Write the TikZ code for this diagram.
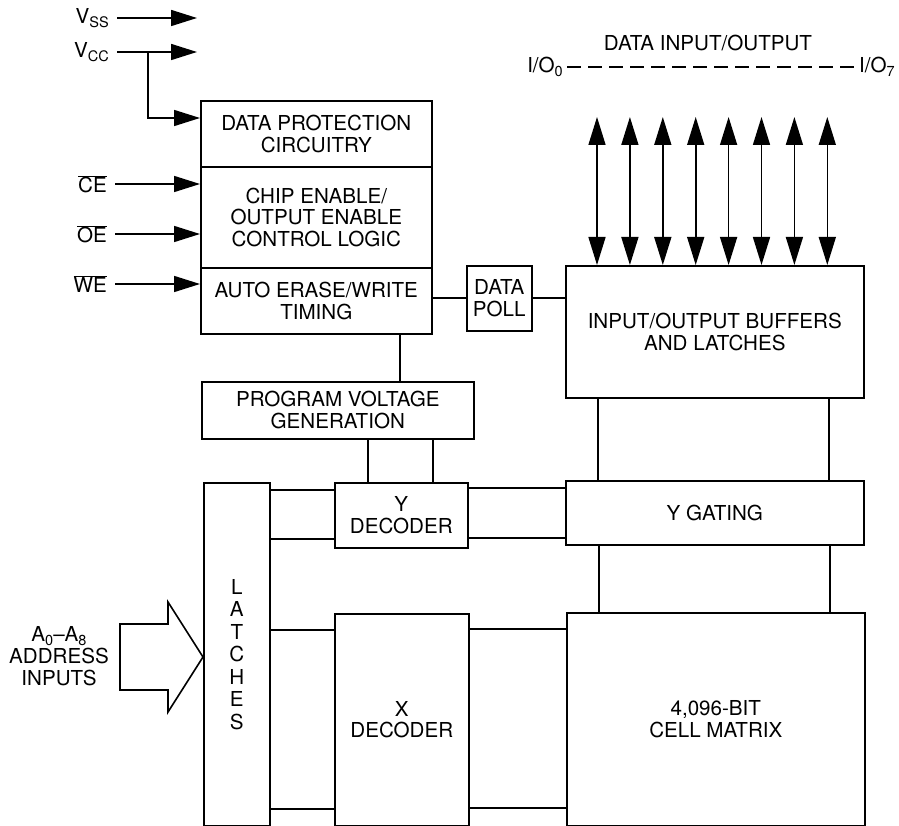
\documentclass[tikz,border=0pt]{standalone}
\usepackage{fontspec}
\setmainfont{TeX Gyre Heros}
\usepackage{tikz}
\usetikzlibrary{positioning, arrows.meta, calc}
\newcommand\lowsub[1]{\raisebox{-4pt}{\fontsize{14.5}{14.5}\selectfont #1}}
\tikzset{
  blk/.style  = {draw, rectangle, align=center, inner sep=0pt, line width=1.6pt,
                 anchor=north west},
  ln/.style   = {line width=1.6pt},
  ar/.style   = {-{Triangle[length=26pt,width=16pt]}, line width=1.6pt},
  dar/.style  = {{Triangle[length=28pt,width=17pt]}-{Triangle[length=28pt,width=17pt]},
                 line width=1.6pt},
  pin/.style  = {anchor=east, inner xsep=8pt, inner ysep=0pt},
}

\begin{document}
\begin{tikzpicture}[x=1pt, y=-1pt, font=\fontsize{20.6}{21.7}\selectfont]
  \useasboundingbox (0,0) rectangle (899,826);
  % control blocks
  \node[blk, minimum width=231pt, minimum height=66pt]  (dpc)  at (200,100) {DATA PROTECTION\\CIRCUITRY};
  \node[blk, minimum width=231pt, minimum height=101pt] (cel)  at (200,166) {CHIP ENABLE/\\OUTPUT ENABLE\\CONTROL LOGIC};
  \node[blk, minimum width=231pt, minimum height=66pt]  (aew)  at (200,267) {AUTO ERASE/WRITE\\TIMING};
  \node[blk, minimum width=272pt, minimum height=57pt]  (pvg)  at (201,381) {PROGRAM VOLTAGE\\GENERATION};
  \node[blk, minimum width=65pt,  minimum height=65pt]  (dpl)  at (466,265) {DATA\\POLL};
  % address path
  \node[blk, minimum width=66pt,  minimum height=343pt, font=\fontsize{20.6}{22.5}\selectfont]
       (lat)  at (203,482) {L\\A\\T\\C\\H\\E\\S};
  \node[blk, minimum width=133pt, minimum height=65pt]  (ydec) at (334,482) {Y\\DECODER};
  \node[blk, minimum width=134pt, minimum height=212pt] (xdec) at (334,613) {X\\DECODER};
  % data path
  \node[blk, minimum width=298pt, minimum height=132pt] (iob)  at (565,265) {INPUT/OUTPUT BUFFERS\\AND LATCHES};
  \node[blk, minimum width=298pt, minimum height=64pt]  (ygt)  at (565,480) {Y GATING};
  \node[blk, minimum width=298pt, minimum height=213pt] (cmx)  at (566,612) {4,096-BIT\\CELL MATRIX};
  % pins
  \node[pin] (vss) at (117,18)  {V\lowsub{SS}};
  \node[pin] (vcc) at (117,52)  {V\lowsub{CC}};
  \node[pin] (ce)  at (115,184) {$\overline{\mbox{CE}}$};
  \node[pin] (oe)  at (115,234) {$\overline{\mbox{OE}}$};
  \node[pin] (we)  at (115,284) {$\overline{\mbox{WE}}$};
  \coordinate (vssend) at (197,18);
  \coordinate (vccend) at (197,52);
  \coordinate (vccbr)  at (148,52);
  \draw[ar] (vss.east) -- (vssend);
  \draw[ar] (vcc.east) -- (vccend);
  \draw[ar] (vccbr) |- (dpc.west |- 0,118);
  \draw[ar] (ce.east) -- (cel.west |- ce.east);
  \draw[ar] (oe.east) -- (cel.west |- oe.east);
  \draw[ar] (we.east) -- (aew.west |- we.east);
  % data input/output
  \node (dio) at (708,43) {DATA INPUT/OUTPUT};
  \node[anchor=east, inner xsep=4pt] (io0) at (567,67) {I/O\lowsub{0}};
  \node[anchor=west, inner xsep=4pt] (io7) at (855,67) {I/O\lowsub{7}};
  \draw[ln, line width=2pt, dash pattern=on 14pt off 7pt] (io0.east) -- (io7.west);
  \foreach \i in {0,...,7}{
    \coordinate (bus\i) at (597+32.9*\i,117);
    \draw[dar] (bus\i) -- (iob.north -| bus\i);
  }
  % address inputs
  \node[align=center] (adr) at (59,656) {A\lowsub{0}--A\lowsub{8}\\ADDRESS\\INPUTS};
  \draw[ln, line join=miter] (120,624) -- (168,624) -- (168,602) -- (lat.west |- 0,657)
     -- (168,712) -- (168,690) -- (120,690) -- cycle;
  % links
  \draw[ln] (aew.east |- 0,298) -- (dpl.west |- 0,298);
  \draw[ln] (dpl.east |- 0,298) -- (iob.west |- 0,298);
  \draw[ln] (aew.south -| 400,0) -- (pvg.north -| 400,0);
  \draw[ln] (pvg.south -| 368,0) -- (ydec.north -| 368,0);
  \draw[ln] (pvg.south -| 433,0) -- (ydec.north -| 433,0);
  \draw[ln] (lat.east |- 0,490) -- (ydec.west |- 0,490);
  \draw[ln] (lat.east |- 0,539) -- (ydec.west |- 0,539);
  \draw[ln] (ydec.east |- 0,488) -- (ygt.west |- 0,488);
  \draw[ln] (ydec.east |- 0,538) -- (ygt.west |- 0,538);
  \draw[ln] (lat.east |- 0,630) -- (xdec.west |- 0,630);
  \draw[ln] (lat.east |- 0,809) -- (xdec.west |- 0,809);
  \draw[ln] (xdec.east |- 0,629) -- (cmx.west |- 0,629);
  \draw[ln] (xdec.east |- 0,808) -- (cmx.west |- 0,808);
  \draw[ln] (iob.south -| 598,0) -- (ygt.north -| 598,0);
  \draw[ln] (iob.south -| 829,0) -- (ygt.north -| 829,0);
  \draw[ln] (ygt.south -| 599,0) -- (cmx.north -| 599,0);
  \draw[ln] (ygt.south -| 830,0) -- (cmx.north -| 830,0);
\end{tikzpicture}
\end{document}
